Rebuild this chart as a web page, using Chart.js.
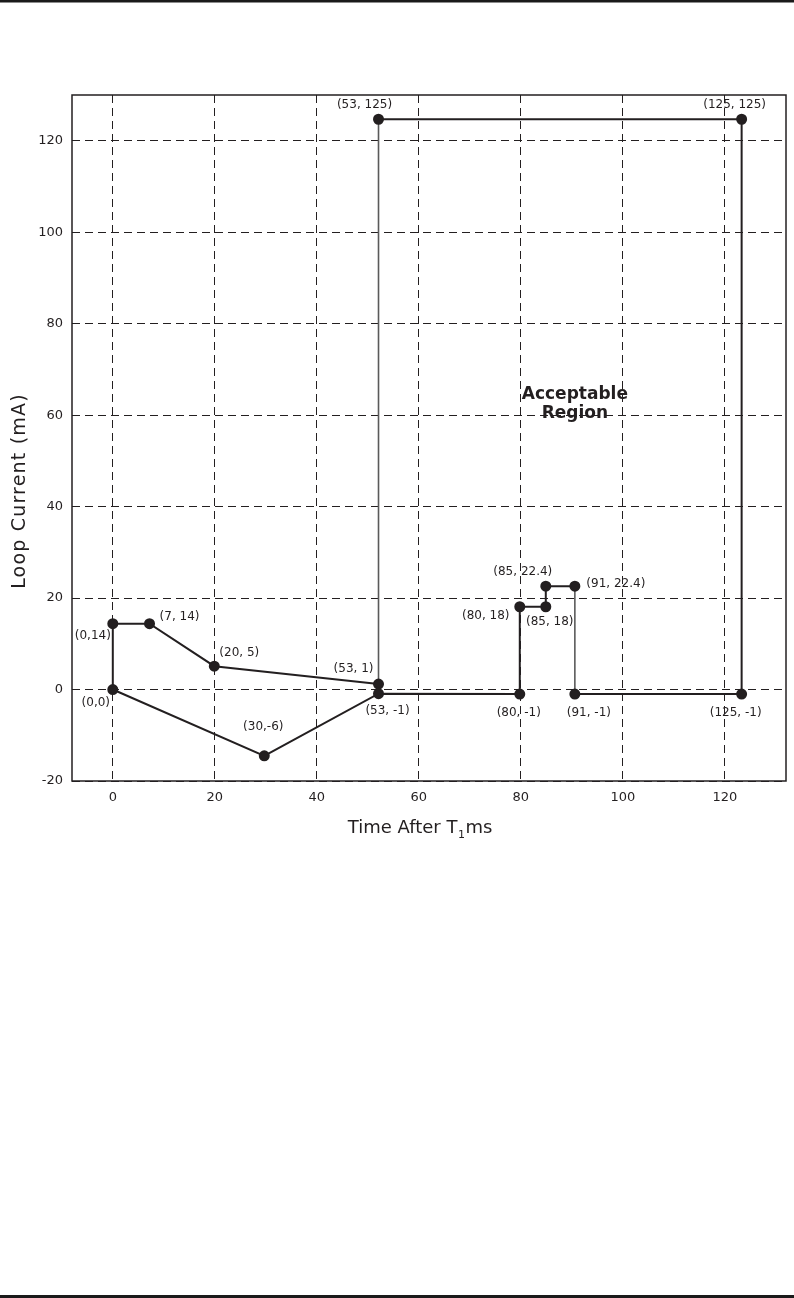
<!DOCTYPE html>
<html>
<head>
<meta charset="utf-8">
<script src="https://cdn.jsdelivr.net/npm/chart.js@4.4.1/dist/chart.umd.min.js"></script>
<style>
  html, body { margin: 0; padding: 0; background: #fff; }
  #wrap { width: 794px; height: 1298px; position: relative; }
</style>
</head>
<body>
<div id="wrap"><canvas id="c" width="794" height="1298"></canvas></div>
<script>
// ---- data (as plotted, polygon order) ----
const xValues = [0, 0, 7.2, 19.9, 52.1, 52.1, 123.3, 123.3, 90.6, 90.6, 84.9, 84.9, 79.8, 79.8, 52.1, 29.7, 0];
const yValues = [0, 14.4, 14.4, 5.1, 1.2, 124.7, 124.7, -1.0, -1.0, 22.6, 22.6, 18.1, 18.1, -1.0, -0.9, -14.5, 0];
const pointLabels = ["(0,0)", "(0,14)", "(7, 14)", "(20, 5)", "(53, 1)", "(53, 125)", "(125, 125)", "(125, -1)",
  "(91, -1)", "(91, 22.4)", "(85, 22.4)", "(85, 18)", "(80, 18)", "(80, -1)", "(53, -1)", "(30,-6)", ""];
const xTicks = [0, 20, 40, 60, 80, 100, 120];
const yTicks = [-20, 0, 20, 40, 60, 80, 100, 120];
const xTitle = ["Time After T", "1", "ms"];
const yTitle = "Loop Current (mA)";
const regionText = ["Acceptable", "Region"];

// label offsets from point (style, px)
const labelOffsets = [[-17, 13], [-20, 12], [30, -7], [25, -13], [-25, -15], [-14, -14], [-7, -14], [-6, 19],
  [14, 19], [41, -2], [-23, -14], [4, 15], [-34, 9], [-1, 19], [9, 17], [-1, -29], [0, 0]];
const graySegments = [4, 8]; // segment starting indices drawn lighter

const INK = '#231f20';

const points = xValues.map((x, i) => ({ x: x, y: yValues[i] }));

const decorPlugin = {
  id: 'decor',
  beforeDatasetsDraw(chart) {
    const ctx = chart.ctx, a = chart.chartArea;
    ctx.save();
    ctx.setLineDash([]);
    ctx.strokeStyle = INK;
    ctx.lineWidth = 1.5;
    ctx.strokeRect(a.left, a.top, a.right - a.left, a.bottom - a.top);
    ctx.restore();
  },
  afterDatasetsDraw(chart) {
    const ctx = chart.ctx, a = chart.chartArea;
    const meta = chart.getDatasetMeta(0);
    ctx.save();
    ctx.fillStyle = INK;
    ctx.textAlign = 'center';
    ctx.textBaseline = 'middle';
    ctx.font = '12px "DejaVu Sans"';
    meta.data.forEach((el, i) => {
      const t = pointLabels[i];
      if (!t) return;
      ctx.fillText(t, el.x + labelOffsets[i][0], el.y + labelOffsets[i][1]);
    });

    // region text placed by data coordinates
    const xs = chart.scales.x, ys = chart.scales.y;
    ctx.font = 'bold 17px "DejaVu Sans"';
    ctx.fillText(regionText[0], xs.getPixelForValue(90.6), ys.getPixelForValue(64.4));
    ctx.fillText(regionText[1], xs.getPixelForValue(90.6), ys.getPixelForValue(60.3));

    // x axis title with subscript
    ctx.textBaseline = 'alphabetic';
    ctx.textAlign = 'left';
    ctx.font = '18px "DejaVu Sans"';
    const w0 = ctx.measureText(xTitle[0]).width;
    const w2 = ctx.measureText(xTitle[2]).width;
    ctx.font = '11px "DejaVu Sans"';
    const w1 = ctx.measureText(xTitle[1]).width + 1;
    const total = w0 + w1 + w2;
    let x0 = 420 - total / 2;
    const base = 833;
    ctx.font = '18px "DejaVu Sans"';
    ctx.fillText(xTitle[0], x0, base);
    ctx.font = '11px "DejaVu Sans"';
    ctx.fillText(xTitle[1], x0 + w0 + 0.5, base + 5);
    ctx.font = '18px "DejaVu Sans"';
    ctx.fillText(xTitle[2], x0 + w0 + w1, base);

    // y axis title
    ctx.save();
    ctx.translate(20, 491);
    ctx.rotate(-Math.PI / 2);
    ctx.textAlign = 'center';
    ctx.textBaseline = 'middle';
    ctx.font = '19px "DejaVu Sans"';
    try { ctx.letterSpacing = '1.2px'; } catch (e) {}
    ctx.fillText(yTitle, 0, 0);
    ctx.restore();

    // page rules
    ctx.fillStyle = '#1a1a1a';
    ctx.fillRect(0, 0, 794, 2.5);
    ctx.fillRect(0, 1295, 794, 3);
    ctx.restore();
  }
};

new Chart(document.getElementById('c'), {
  type: 'scatter',
  data: {
    datasets: [{
      data: points,
      showLine: true,
      borderColor: INK,
      borderWidth: 2,
      backgroundColor: INK,
      pointBackgroundColor: INK,
      pointBorderColor: INK,
      pointRadius: points.map((p, i) => i === points.length - 1 ? 0 : 4.5),
      pointHoverRadius: 4.5,
      tension: 0,
      segment: {
        borderColor: ctx => graySegments.includes(ctx.p0DataIndex) ? '#5a5a5a' : INK,
        borderWidth: ctx => graySegments.includes(ctx.p0DataIndex) ? 1.6 : 2
      }
    }]
  },
  options: {
    responsive: false,
    animation: false,
    devicePixelRatio: 1,
    layout: { padding: { left: 0, top: 95, right: 8, bottom: 457 } },
    plugins: { legend: { display: false }, tooltip: { enabled: false } },
    scales: {
      x: {
        type: 'linear',
        min: -8,
        max: 132,
        afterBuildTicks: s => { s.ticks = xTicks.map(v => ({ value: v })); },
        afterFit: s => { s.height = 60; },
        grid: { color: INK, lineWidth: 1, drawTicks: false },
        border: { display: false, dash: [8, 5] },
        ticks: { color: INK, padding: 9, font: { family: 'DejaVu Sans', size: 13 }, maxRotation: 0 }
      },
      y: {
        type: 'linear',
        min: -20,
        max: 130,
        afterBuildTicks: s => { s.ticks = yTicks.map(v => ({ value: v })); },
        afterFit: s => { s.width = 72; },
        grid: { color: INK, lineWidth: 1, drawTicks: false },
        border: { display: false, dash: [8, 5] },
        ticks: { color: INK, padding: 9, font: { family: 'DejaVu Sans', size: 13 } }
      }
    }
  },
  plugins: [decorPlugin]
});
</script>
</body>
</html>
